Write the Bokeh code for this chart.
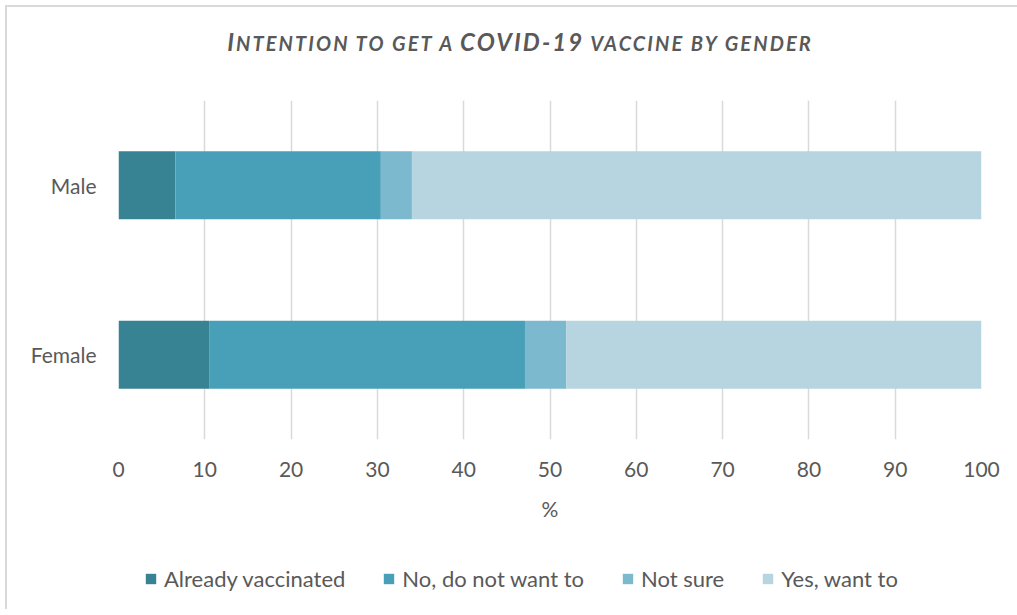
from bokeh.plotting import figure
from bokeh.models import ColumnDataSource, Range1d, Legend, LegendItem, Div, FixedTicker
from bokeh.layouts import column
from bokeh.embed import file_html
from bokeh.resources import INLINE

# Survey shares (%) by gender
genders = ["Female", "Male"]
already_vaccinated = [10.5, 6.6]
no_do_not_want = [36.6, 23.8]
not_sure = [4.8, 3.6]
yes_want_to = [48.1, 66.0]

series = ["Already vaccinated", "No, do not want to", "Not sure", "Yes, want to"]
colors = ["#378293", "#47a0b8", "#7cb9cf", "#b7d5e0"]
x_ticks = [0, 10, 20, 30, 40, 50, 60, 70, 80, 90, 100]

FONT = "Lato"
TEXT = "#595959"
W = 1010

source = ColumnDataSource(dict(
    gender=genders,
    a=already_vaccinated,
    b=no_do_not_want,
    c=not_sure,
    d=yes_want_to,
))

# small-caps title: capitals at full size, the rest as smaller capitals
big = '<span style="font-size:24px;">{}</span>'
small = '<span style="font-size:20px;">{}</span>'
title_html = (
    big.format("I") + small.format("NTENTION TO GET A ") + big.format("COVID-19")
    + small.format(" VACCINE BY GENDER")
)
title = Div(
    text=(
        f'<div style="width:{W}px; text-align:center; font-family:Lato; '
        'font-style:italic; font-weight:bold; color:#595959; letter-spacing:2.1px; '
        'line-height:25px; padding-top:22px; padding-left:16px; box-sizing:border-box;">'
        + title_html + '</div>'
    ),
    width=W, height=90, margin=0,
)

p = figure(
    width=W, height=432,
    y_range=genders, x_range=Range1d(0, 100),
    output_backend="svg", toolbar_location=None,
    min_border_left=111, min_border_right=W - 111 - 863,
    min_border_top=3, min_border_bottom=90,
    background_fill_color="white", border_fill_color="white",
    outline_line_color=None, margin=0,
)

renderers = p.hbar_stack(["a", "b", "c", "d"], y="gender", height=0.4,
                         color=colors, line_color=None, source=source)

p.y_range.range_padding = 0

# axes
p.xaxis.ticker = FixedTicker(ticks=x_ticks)
p.xaxis.axis_label = "%"
p.xaxis.axis_label_text_font = FONT
p.xaxis.axis_label_text_font_style = "normal"
p.xaxis.axis_label_text_font_size = "21px"
p.xaxis.axis_label_text_color = TEXT
p.xaxis.axis_label_standoff = 16
for ax in (p.xaxis, p.yaxis):
    ax.axis_line_color = None
    ax.major_tick_line_color = None
    ax.minor_tick_line_color = None
    ax.major_tick_out = 0
    ax.major_tick_in = 0
    ax.major_label_text_font = FONT
    ax.major_label_text_font_size = "21px"
    ax.major_label_text_color = TEXT
p.xaxis.major_label_standoff = 22
p.yaxis.major_label_standoff = 22

p.xgrid.ticker = FixedTicker(ticks=x_ticks)
p.xgrid.grid_line_color = "#d9d9d9"
p.xgrid.grid_line_width = 1.5
p.ygrid.grid_line_color = None

# legend strip under the chart; its swatch bars sit outside the visible range
lg = figure(
    width=W, height=80,
    x_range=Range1d(0, 1), y_range=Range1d(0, 1),
    output_backend="svg", toolbar_location=None,
    x_axis_location=None, y_axis_location=None,
    min_border_left=20, min_border_right=0, min_border_top=0, min_border_bottom=0,
    background_fill_color="white", border_fill_color="white",
    outline_line_color=None, margin=0,
)
lg.xgrid.grid_line_color = None
lg.ygrid.grid_line_color = None
swatches = [
    lg.hbar(y=[-5], left=[0], right=[1], height=0.1, color=c, line_color=None)
    for c in colors
]

legend = Legend(
    items=[LegendItem(label=s, renderers=[r]) for s, r in zip(series, swatches)],
    orientation="horizontal",
    location=(26, 17),
    glyph_width=13, glyph_height=13,
    label_standoff=7, spacing=37,
    label_text_font=FONT, label_text_font_size="22px", label_text_color=TEXT,
    border_line_color=None, background_fill_alpha=0,
    padding=0, margin=0,
)
lg.add_layout(legend, "center")

# chart-area frame on the left and top; the rest runs past the page edge
layout = column(
    title, p, lg, margin=(5, 0, 0, 5), spacing=0,
    styles={
        "border-left": "2px solid #d9d9d9", "border-top": "2px solid #d9d9d9",
        "overflow": "hidden",
    },
)

with open("out.html", "w") as f:
    f.write(file_html(layout, INLINE))
